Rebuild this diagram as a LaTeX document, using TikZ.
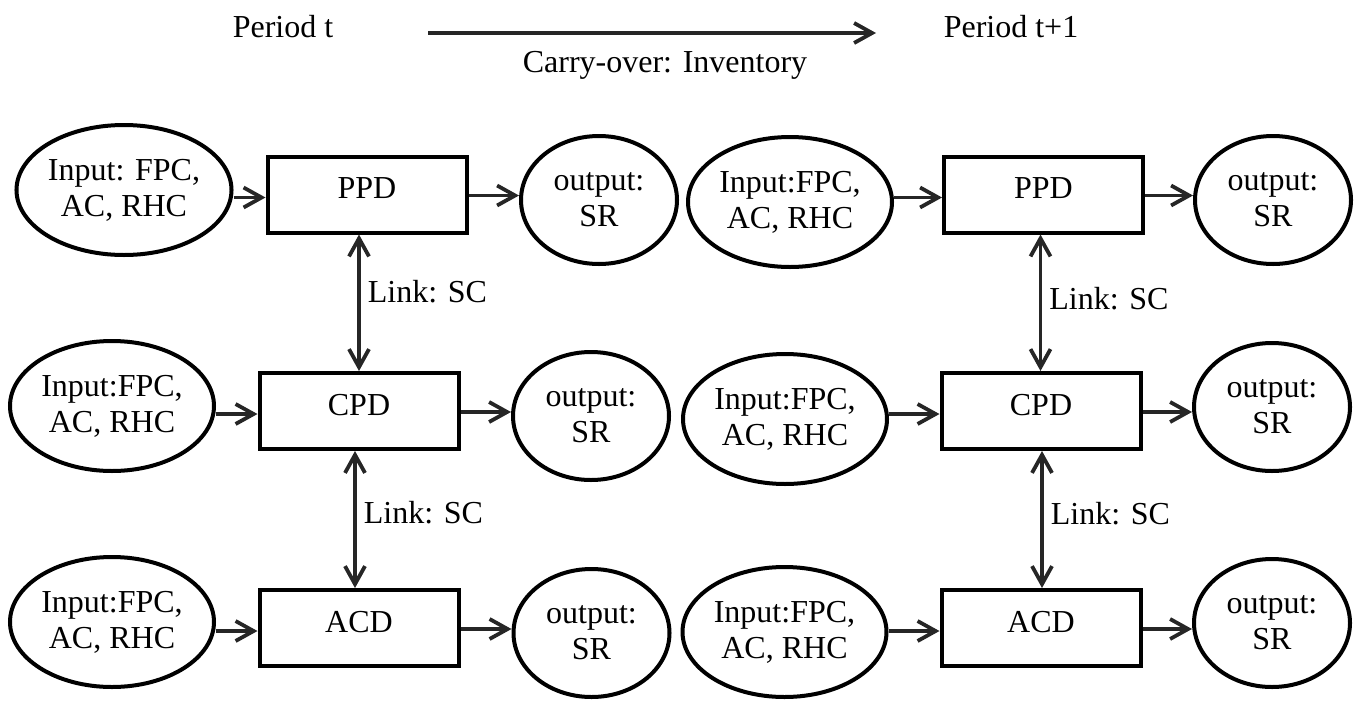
\documentclass[tikz,border=0pt]{standalone}
\usepackage{fontspec}
\setmainfont{Liberation Serif}
\usetikzlibrary{shapes.geometric,arrows.meta}

\tikzset{
  txt/.style={font=\fontsize{16}{18}\selectfont, align=center, inner sep=0pt},
  inputnode/.style={txt, ellipse, draw=black, line width=2pt,
    minimum width=102pt, minimum height=65pt},
  outputnode/.style={txt, ellipse, draw=black, line width=2pt,
    minimum width=78pt, minimum height=64pt},
  dept/.style={txt, rectangle, draw=black, line width=2pt,
    minimum width=99.5pt, minimum height=38pt, text depth=6pt},
  barb/.tip={Straight Barb[length=9pt,width=10pt,line width=1.9pt]},
  arr/.style={draw=black!85, line width=1.9pt, -{barb}},
  link/.style={draw=black!85, line width=1.9pt, {barb}-{barb}},
  lbl/.style={txt, anchor=west, inner xsep=3.5pt}
}

\begin{document}
\begin{tikzpicture}[x=0.5pt, y=-0.5pt]
  \useasboundingbox (0,0) rectangle (1355,702);

  % header: the two periods and the inventory carry-over
  \node[txt] (pt)  at (283,27)  {Period t};
  \node[txt] (pt1) at (1011,27) {Period t+1};
  \coordinate (co-start) at (428,33);
  \coordinate (co-end)   at (876,33);
  \draw[arr] (co-start) -- (co-end);
  \node[txt] (carry) at (665,65) {Carry-over: Inventory};

  % period t
  \node[inputnode]  (in1)  at (124,190)   {Input: FPC,\\AC, RHC};
  \node[dept]       (ppd1) at (367,194.5) {PPD};
  \node[outputnode] (out1) at (599,200)   {output:\\SR};

  \node[inputnode]  (in2)  at (112,406)   {Input:FPC,\\AC, RHC};
  \node[dept]       (cpd2) at (359,411)   {CPD};
  \node[outputnode] (out2) at (591,416)   {output:\\SR};

  \node[inputnode]  (in3)  at (112,622)   {Input:FPC,\\AC, RHC};
  \node[dept]       (acd3) at (359,628)   {ACD};
  \node[outputnode] (out3) at (591.5,633) {output:\\SR};

  % period t+1
  \node[inputnode]  (in1b)  at (790,202)    {Input:FPC,\\AC, RHC};
  \node[dept]       (ppd1b) at (1043.5,194.5) {PPD};
  \node[outputnode] (out1b) at (1273,200)   {output:\\SR};

  \node[inputnode]  (in2b)  at (785,419)    {Input:FPC,\\AC, RHC};
  \node[dept]       (cpd2b) at (1041,411)   {CPD};
  \node[outputnode] (out2b) at (1272,407)   {output:\\SR};

  \node[inputnode]  (in3b)  at (784.5,632)  {Input:FPC,\\AC, RHC};
  \node[dept]       (acd3b) at (1041,628)   {ACD};
  \node[outputnode] (out3b) at (1272,623)   {output:\\SR};

  % inputs into departments, departments into outputs
  \foreach \i/\d/\o in {in1/ppd1/out1, in2/cpd2/out2, in3/acd3/out3,
                        in1b/ppd1b/out1b, in2b/cpd2b/out2b, in3b/acd3b/out3b}{
    \draw[arr] ([yshift=-1.5pt]\i.east |- \d.west) -- ([yshift=-1.5pt]\d.west);
    \draw[arr] ([yshift=-0.5pt]\d.east) -- ([yshift=-0.5pt]\o.west |- \d.east);
  }

  % links between departments
  \draw[link] ([xshift=-4pt]ppd1.south) -- ([xshift=-4pt]ppd1.south |- cpd2.north)
    node[lbl, pos=0.42] {Link: SC};
  \draw[link] ([xshift=-2pt]cpd2.south) -- ([xshift=-2pt]acd3.north)
    node[lbl, pos=0.45] {Link: SC};
  \draw[link] ([xshift=-1.5pt]ppd1b.south) -- ([xshift=-1.5pt]ppd1b.south |- cpd2b.north)
    node[lbl, pos=0.47] {Link: SC};
  \draw[link] ([xshift=0.5pt]cpd2b.south) -- ([xshift=0.5pt]acd3b.north)
    node[lbl, pos=0.46] {Link: SC};
\end{tikzpicture}
\end{document}
